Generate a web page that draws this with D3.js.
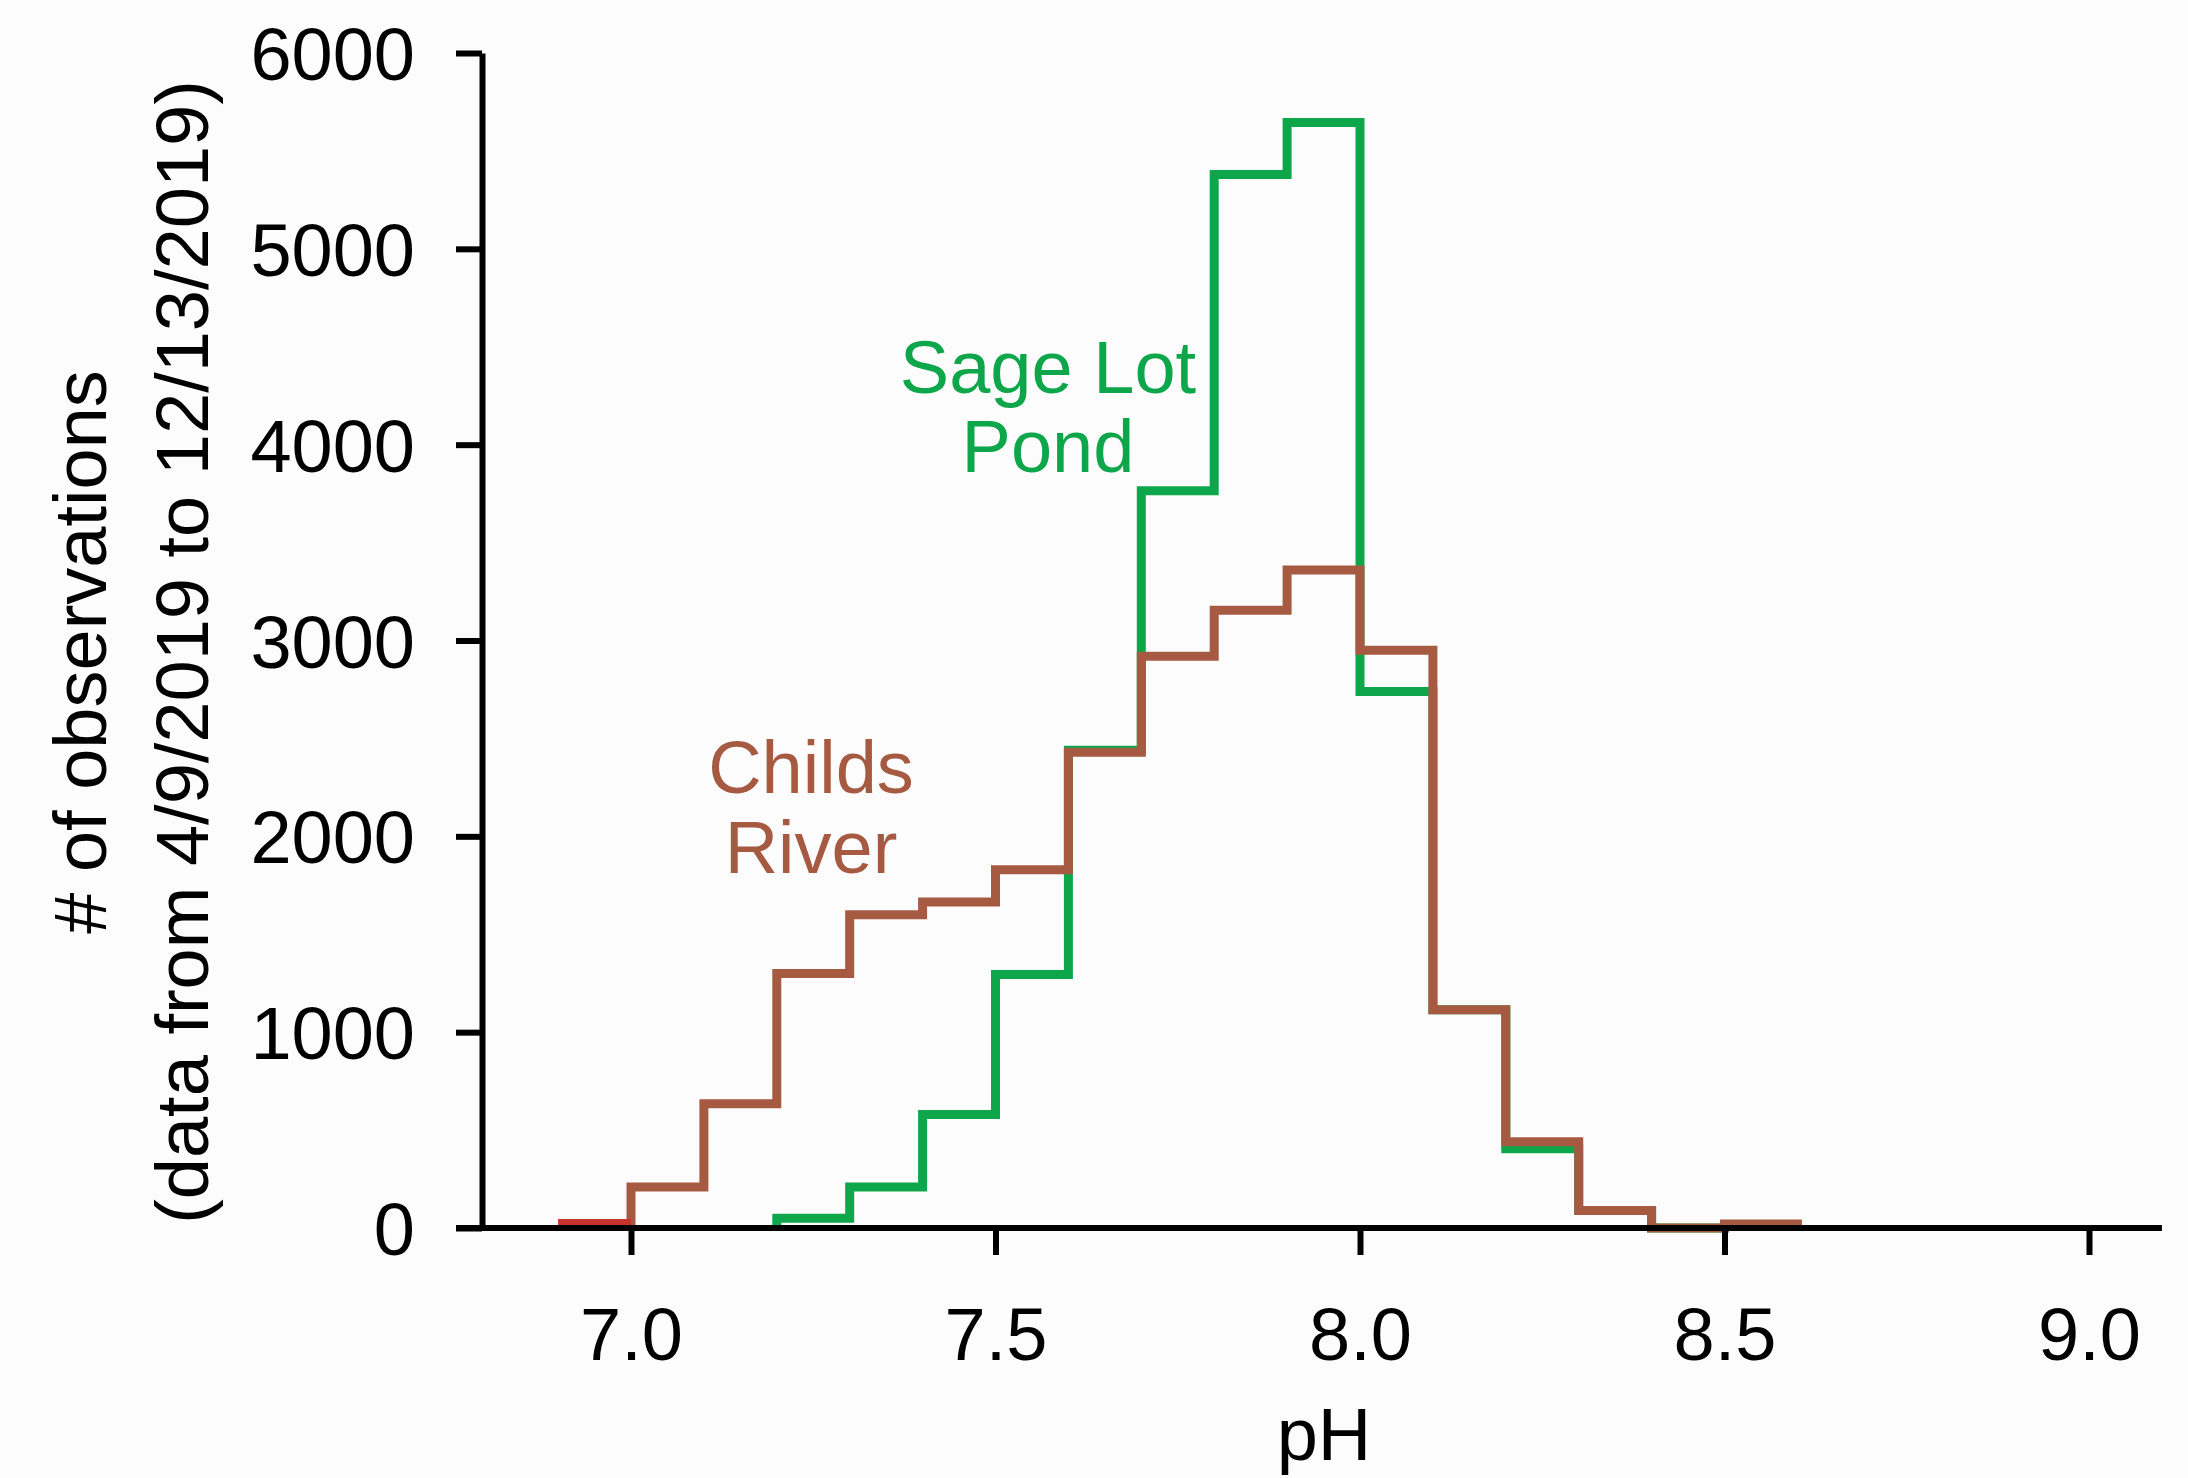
<!DOCTYPE html>
<html><head><meta charset="utf-8">
<script src="https://cdn.jsdelivr.net/npm/d3@7"></script>
<style>
html,body{margin:0;padding:0;background:#fcfcfc;}
svg{display:block;font-family:"Liberation Sans",Arial,Helvetica,sans-serif;}
</style></head>
<body>
<svg id="chart" width="2188" height="1478"></svg>
<script>
// bin starts (pH), bin width 0.1
const binStarts = [6.9,7.0,7.1,7.2,7.3,7.4,7.5,7.6,7.7,7.8,7.9,8.0,8.1,8.2,8.3,8.4,8.5];
const childsRiver = [25,210,635,1300,1600,1665,1830,2430,2920,3155,3360,2950,1115,440,90,0,20];
const sageLotPond = [null,null,null,50,210,580,1295,2440,3765,5380,5645,2740,1115,405,90,0,null];
const binWidth = 0.1;
const xTicks = [7.0,7.5,8.0,8.5,9.0];
const yTicks = [0,1000,2000,3000,4000,5000,6000];

const svg = d3.select("#chart");
const x = d3.scaleLinear().domain([6.75, 9.1]).range([448.75, 2161.9]);
const y = d3.scaleLinear().domain([0, 6000]).range([1228, 53]);

const green = "#0ea64b", brown = "#a65a42", red = "#c8342c";
const FS = 74;

// step-line builder
function stepPoints(vals) {
  const segs = [];
  let cur = [];
  vals.forEach((v, i) => {
    if (v === null) { if (cur.length) { segs.push(cur); cur = []; } return; }
    const x0 = binStarts[i], x1 = binStarts[i] + binWidth;
    if (!cur.length) cur.push([x0, 0]);
    cur.push([x0, v], [x1, v]);
    if (i === vals.length - 1 || vals[i + 1] === null) { cur.push([x1, 0]); }
  });
  if (cur.length) segs.push(cur);
  return segs;
}
const line = d3.line().x(d => x(d[0])).y(d => y(d[1]));

const plot = svg.append("g");
stepPoints(sageLotPond).forEach(s => plot.append("path").attr("d", line(s)).attr("fill", "none")
  .attr("stroke", green).attr("stroke-width", 9).attr("stroke-linejoin", "miter"));
const cr = childsRiver.map((v, i) => i === 0 ? null : v);
stepPoints(cr).forEach(s => plot.append("path").attr("d", line(s)).attr("fill", "none")
  .attr("stroke", brown).attr("stroke-width", 9).attr("stroke-linejoin", "miter"));
plot.append("path").attr("d", line([[binStarts[0], childsRiver[0]], [binStarts[0] + binWidth, childsRiver[0]]]))
  .attr("fill", "none").attr("stroke", red).attr("stroke-width", 8);

// axes (on top of lines)
const xAxis = d3.axisBottom(x).tickValues(xTicks).tickFormat(d3.format(".1f"))
  .tickSize(27).tickSizeOuter(0).tickPadding(52);
const gx = svg.append("g").attr("transform", `translate(0,${y(0)})`).call(xAxis);
const yAxis = d3.axisLeft(y).tickValues(yTicks).tickFormat(d3.format("d"))
  .tickSize(26).tickSizeOuter(0).tickPadding(41);
const gy = svg.append("g").attr("transform", `translate(482,0)`).call(yAxis);
[gx, gy].forEach(g => {
  g.selectAll("path, line").attr("stroke", "#000").attr("stroke-width", 6);
  g.selectAll("text").attr("fill", "#000").attr("font-size", FS)
    .attr("font-family", "Liberation Sans, Arial, sans-serif");
});
gx.select(".domain").attr("d", `M${456},0H${x.range()[1]}`);
gx.selectAll("text").attr("dy", "0.72em");
gy.selectAll("text").attr("dy", "0.36em");

// series labels
const lab = (t, cx, cy, c) => svg.append("text").attr("x", cx).attr("y", cy).attr("text-anchor", "middle")
  .attr("font-size", FS).attr("fill", c).text(t);
lab("Sage Lot", 1048, 393, green);
lab("Pond", 1048, 472, green);
lab("Childs", 811, 793, brown);
lab("River", 811, 873, brown);

// axis titles
svg.append("text").attr("x", 1324).attr("y", 1460).attr("text-anchor", "middle")
  .attr("font-size", FS).attr("fill", "#000").text("pH");
const yt = svg.append("g").attr("transform", "translate(0,652) rotate(-90)");
yt.append("text").attr("x", 0).attr("y", 106).attr("text-anchor", "middle")
  .attr("font-size", FS).attr("fill", "#000").text("# of observations");
yt.append("text").attr("x", 0).attr("y", 208).attr("text-anchor", "middle")
  .attr("font-size", FS).attr("fill", "#000").text("(data from 4/9/2019 to 12/13/2019)");
</script>
</body></html>
